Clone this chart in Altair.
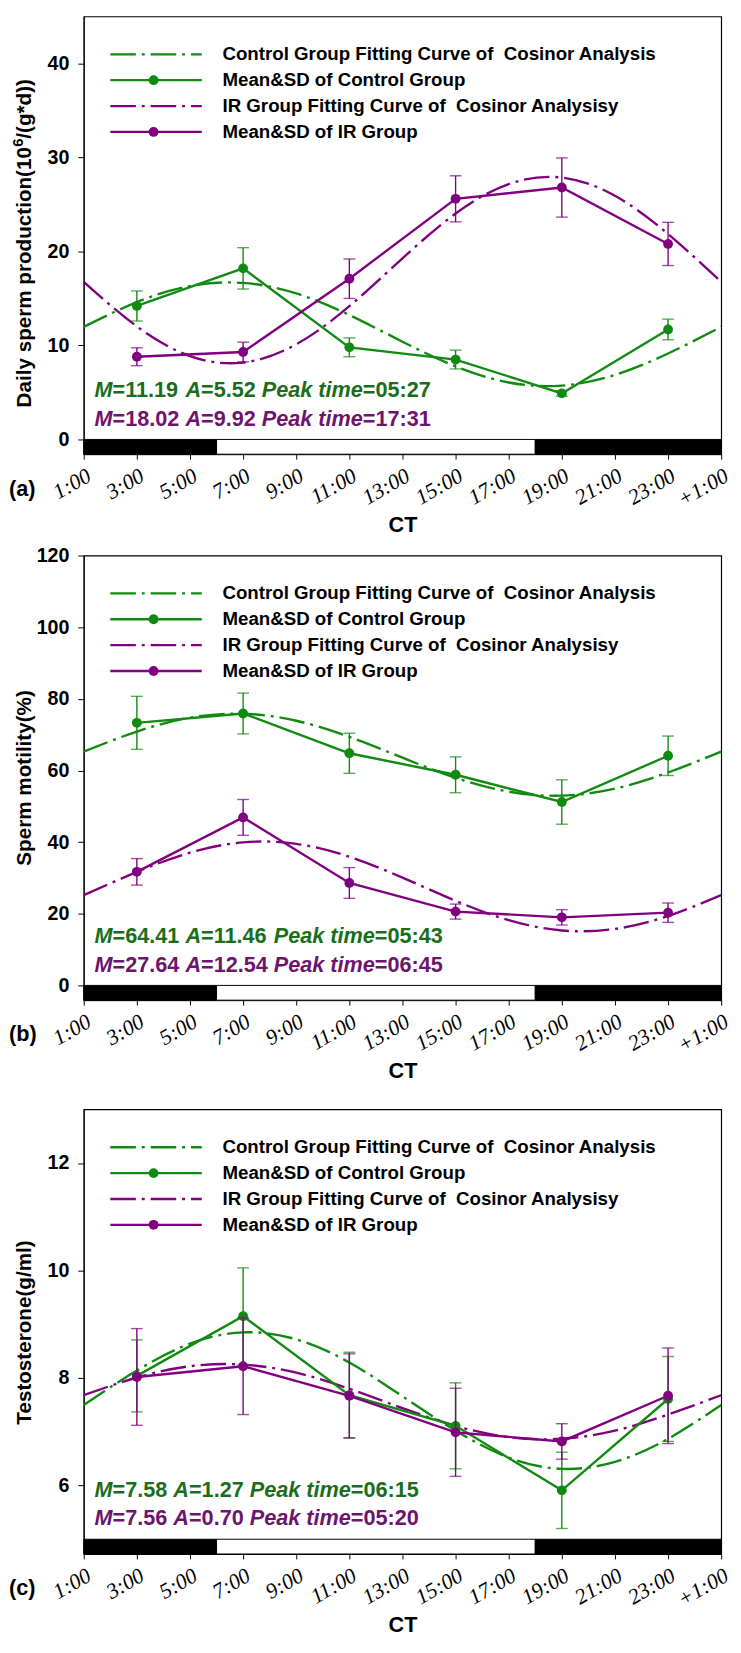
import altair as alt
import pandas as pd

# ---------------- data ----------------
sample_hours = [3, 7, 11, 15, 19, 23]
fit_hours = [1, 3, 5, 7, 9, 11, 13, 15, 17, 19, 21, 23, 25]
tick_values = [1, 3, 5, 7, 9, 11, 13, 15, 17, 19, 21, 23, 25]
tick_labels = ["1:00", "3:00", "5:00", "7:00", "9:00", "11:00", "13:00",
               "15:00", "17:00", "19:00", "21:00", "23:00", "+1:00"]
phase_start = [1, 6, 18]
phase_end = [6, 18, 25]
phase_kind = ["dark", "light", "dark"]

legend_labels = ["Control Group Fitting Curve of\u00a0 Cosinor Analysis",
                 "Mean&SD of Control Group",
                 "IR Group Fitting Curve of\u00a0 Cosinor Analysisy",
                 "Mean&SD of IR Group"]

# (a) daily sperm production
a_title = [("Daily sperm production(10", False), ("6", True), ("/(g*d))", False)]
a_ctrl_mean = [14.2, 18.2, 9.8, 8.5, 4.9, 11.7]
a_ctrl_sd = [1.6, 2.2, 1.0, 1.0, 0.3, 1.1]
a_ir_mean = [8.8, 9.3, 17.1, 25.6, 26.8, 20.8]
a_ir_sd = [0.95, 1.05, 2.1, 2.45, 3.15, 2.3]
a_ctrl_fit = [11.98, 14.61, 16.32, 16.65, 15.53, 13.24, 10.40, 7.77, 6.06, 5.73, 6.86, 9.14, 11.98]
a_ir_fit = [16.77, 12.02, 8.87, 8.18, 10.12, 14.18, 19.27, 24.03, 27.17, 27.86, 25.92, 21.86, 16.77]
a_stats = [("11.19", "5.52", "05:27"), ("18.02", "9.92", "17:31")]

# (b) sperm motility
b_title = [("Sperm motility(%)", False)]
b_ctrl_mean = [73.3, 75.9, 64.8, 58.8, 51.2, 64.1]
b_ctrl_sd = [7.4, 5.7, 5.6, 5.0, 6.2, 5.5]
b_ir_mean = [31.7, 46.9, 28.6, 20.6, 19.0, 20.3]
b_ir_sd = [3.7, 5.0, 4.3, 2.1, 2.15, 2.7]
b_ctrl_fit = [65.26, 70.86, 74.73, 75.84, 73.88, 69.39, 63.56, 57.96, 54.09, 52.98, 54.94, 59.43, 65.26]
b_ir_fit = [25.19, 31.67, 37.07, 39.94, 39.51, 35.91, 30.09, 23.61, 18.21, 15.34, 15.77, 19.37, 25.19]
b_stats = [("64.41", "11.46", "05:43"), ("27.64", "12.54", "06:45")]

# (c) testosterone
c_title = [("Testosterone(g/ml)", False)]
c_ctrl_mean = [8.04, 9.15, 7.68, 7.11, 5.91, 7.61]
c_ctrl_sd = [0.67, 0.9, 0.8, 0.8, 0.71, 0.79]
c_ir_mean = [8.02, 8.22, 7.67, 6.99, 6.82, 7.67]
c_ir_sd = [0.9, 0.9, 0.78, 0.82, 0.33, 0.89]
c_ctrl_fit = [7.50, 8.14, 8.64, 8.85, 8.72, 8.29, 7.66, 7.02, 6.52, 6.31, 6.44, 6.87, 7.50]
c_ir_fit = [7.68, 8.01, 8.22, 8.25, 8.10, 7.80, 7.44, 7.11, 6.90, 6.87, 7.02, 7.32, 7.68]
c_stats = [("7.58", "1.27", "06:15"), ("7.56", "0.70", "05:20")]

# ---------------- style ----------------
GREEN = "#108a10"
PURPLE = "#800080"
GREEN_TXT = "#1a6e1a"
PURPLE_TXT = "#6e136e"
SANS = "Liberation Sans"
SERIF = "Liberation Serif"
W = 648
BAR_PX = 15
DASH = [26, 6, 3, 6]
ANN_FS = 22
LEG_FS = 19
YT_FS = 21

# Arial/Liberation Sans Bold advance widths (1/1000 em)
ARIAL_BOLD = {"M": 833, "=": 584, ".": 278, " ": 278, "A": 722, "P": 667, "e": 556,
              "a": 556, "k": 556, "t": 333, "i": 278, "m": 889, ":": 333, "D": 722,
              "l": 278, "y": 556, "s": 556, "p": 611, "r": 389, "o": 611, "d": 611,
              "u": 611, "c": 556, "n": 611, "(": 333, ")": 333, "/": 278, "g": 611,
              "*": 389, "S": 667, "T": 611, "%": 889}


def text_width(s, size):
    return sum(ARIAL_BOLD.get(ch, 556) for ch in s) * size / 1000.0


label_expr = "'" + tick_labels[-1] + "'"
for v, lab in reversed(list(zip(tick_values[:-1], tick_labels[:-1]))):
    label_expr = f"datum.value == {v} ? '{lab}' : ({label_expr})"

one = pd.DataFrame({"k": [0]})


def txt(s, x, y, size, color="black", italic=False, align="left", angle=0, opacity=1):
    return alt.Chart(one).mark_text(
        align=align, baseline="middle", font=SANS, fontSize=size, fontWeight="bold",
        fontStyle="italic" if italic else "normal", color=color, text=s,
        angle=angle, opacity=opacity).encode(x=alt.value(x), y=alt.value(y))


def make_panel(letter, ytitle, ymax, bar_top, yticks, H, groups, stats, spacer=None):
    ymin = bar_top - BAR_PX * (ymax - bar_top) / (H - BAR_PX)
    xs = alt.Scale(domain=[1, 25], nice=False, zero=False)
    ys = alt.Scale(domain=[ymin, ymax], nice=False, zero=False)
    xaxis = alt.Axis(values=tick_values, labelExpr=label_expr, labelAngle=-30,
                     labelAlign="right", labelBaseline="top", labelFont=SERIF,
                     labelFontStyle="italic", labelFontSize=22, labelPadding=6,
                     labelColor="black", tickSize=5, tickColor="black",
                     domainColor="black", grid=False, title="CT", titleFont=SANS,
                     titleFontSize=22, titleFontWeight="bold", titleY=72,
                     titleBaseline="middle", titleColor="black", labelOverlap=False)
    yaxis = alt.Axis(values=yticks, labelFont=SANS, labelFontSize=20,
                     labelFontWeight="bold", labelPadding=9, labelColor="black",
                     tickSize=6, tickColor="black", domainColor="black", grid=False,
                     title=None)
    X = lambda f: alt.X(f, type="quantitative", scale=xs, axis=xaxis, title="CT")
    Y = lambda f: alt.Y(f, type="quantitative", scale=ys, axis=yaxis, title=None)

    layers = []
    bar_df = pd.DataFrame({"start": phase_start, "end": phase_end, "phase": phase_kind})
    layers.append(
        alt.Chart(bar_df).mark_rect(stroke="black", strokeWidth=1).encode(
            x=X("start"), x2="end",
            y=alt.YDatum(ymin, scale=ys, axis=yaxis, title=None),
            y2=alt.datum(bar_top),
            color=alt.Color("phase:N", scale=alt.Scale(domain=["dark", "light"],
                                                       range=["black", "white"]),
                            legend=None)))

    for mean, sd, fit, col in groups:
        fit_df = pd.DataFrame({"hour": fit_hours, "val": fit})
        layers.append(alt.Chart(fit_df).mark_line(
            color=col, strokeWidth=2.4, strokeDash=DASH, interpolate="natural").encode(
            x=X("hour"), y=Y("val")))
    for mean, sd, fit, col in groups:
        mdf = pd.DataFrame({"hour": sample_hours, "val": mean, "sd": sd})
        base = alt.Chart(mdf).transform_calculate(
            lo="datum.val - datum.sd", hi="datum.val + datum.sd")
        layers.append(base.mark_rule(color=col, strokeWidth=1.4).encode(
            x=X("hour"), y=Y("lo"), y2="hi:Q"))
        layers.append(base.mark_tick(color=col, orient="horizontal", size=12,
                                     thickness=1.4).encode(x=X("hour"), y=Y("lo")))
        layers.append(base.mark_tick(color=col, orient="horizontal", size=12,
                                     thickness=1.4).encode(x=X("hour"), y=Y("hi")))
        layers.append(base.mark_line(color=col, strokeWidth=2.4).encode(
            x=X("hour"), y=Y("val")))
        layers.append(base.mark_circle(color=col, size=100, opacity=1).encode(
            x=X("hour"), y=Y("val")))

    # legend
    leg_cols = [GREEN, GREEN, PURPLE, PURPLE]
    leg_dash = [True, False, True, False]
    for i, (lab, col, dashed) in enumerate(zip(legend_labels, leg_cols, leg_dash)):
        yy = 38.5 + i * 26.3
        kw = {"strokeDash": DASH} if dashed else {}
        layers.append(alt.Chart(one).mark_rule(color=col, strokeWidth=2.4, **kw).encode(
            x=alt.value(27), x2=alt.value(120), y=alt.value(yy)))
        if not dashed:
            layers.append(alt.Chart(one).mark_circle(color=col, size=100, opacity=1).encode(
                x=alt.value(71), y=alt.value(yy)))
        layers.append(txt(lab, 141, yy, LEG_FS))

    # cosinor parameters (italic symbols, upright values)
    for j, ((m, a, p), col) in enumerate(zip(stats, [GREEN_TXT, PURPLE_TXT])):
        yy = H - 65 + j * 29
        segs = [("M", True), ("=" + m + " ", False), ("A", True), ("=" + a + " ", False),
                ("Peak time", True), ("=" + p, False)]
        xx = 11
        for s, it in segs:
            layers.append(txt(s, xx, yy, ANN_FS, color=col, italic=it))
            xx += text_width(s, ANN_FS)

    # y-axis title drawn as rotated text (allows a real superscript)
    sizes = [15 if sup else YT_FS for _, sup in ytitle]
    total = sum(text_width(s, fs) for (s, _), fs in zip(ytitle, sizes))
    ypos = H / 2 + total / 2 + (8 if len(ytitle) > 1 else 0)
    for (s, sup), fs in zip(ytitle, sizes):
        layers.append(txt(s, -60 - (7 if sup else 0), ypos, fs, angle=270))
        ypos -= text_width(s, fs)

    layers.append(txt(letter, -76, H + 35, 22))
    if spacer is not None:
        layers.append(txt(".", 300, H + spacer, 6, opacity=0))

    return alt.layer(*layers).properties(width=W, height=H)


pa = make_panel("(a)", a_title, 45, 0, [0, 10, 20, 30, 40], 445,
                [(a_ctrl_mean, a_ctrl_sd, a_ctrl_fit, GREEN),
                 (a_ir_mean, a_ir_sd, a_ir_fit, PURPLE)], a_stats)
pb = make_panel("(b)", b_title, 120, 0, [0, 20, 40, 60, 80, 100, 120], 452,
                [(b_ctrl_mean, b_ctrl_sd, b_ctrl_fit, GREEN),
                 (b_ir_mean, b_ir_sd, b_ir_fit, PURPLE)], b_stats, spacer=98)
pc = make_panel("(c)", c_title, 13, 5, [6, 8, 10, 12], 452,
                [(c_ctrl_mean, c_ctrl_sd, c_ctrl_fit, GREEN),
                 (c_ir_mean, c_ir_sd, c_ir_fit, PURPLE)], c_stats)

chart = alt.vconcat(pa, pb, pc, spacing=8).properties(
    padding={"left": 0, "top": -6, "right": 0, "bottom": 0}
).configure_view(stroke="black", strokeWidth=1.2).configure_axis(grid=False)

chart.save("out.html", embed_options={"renderer": "svg", "actions": False})
